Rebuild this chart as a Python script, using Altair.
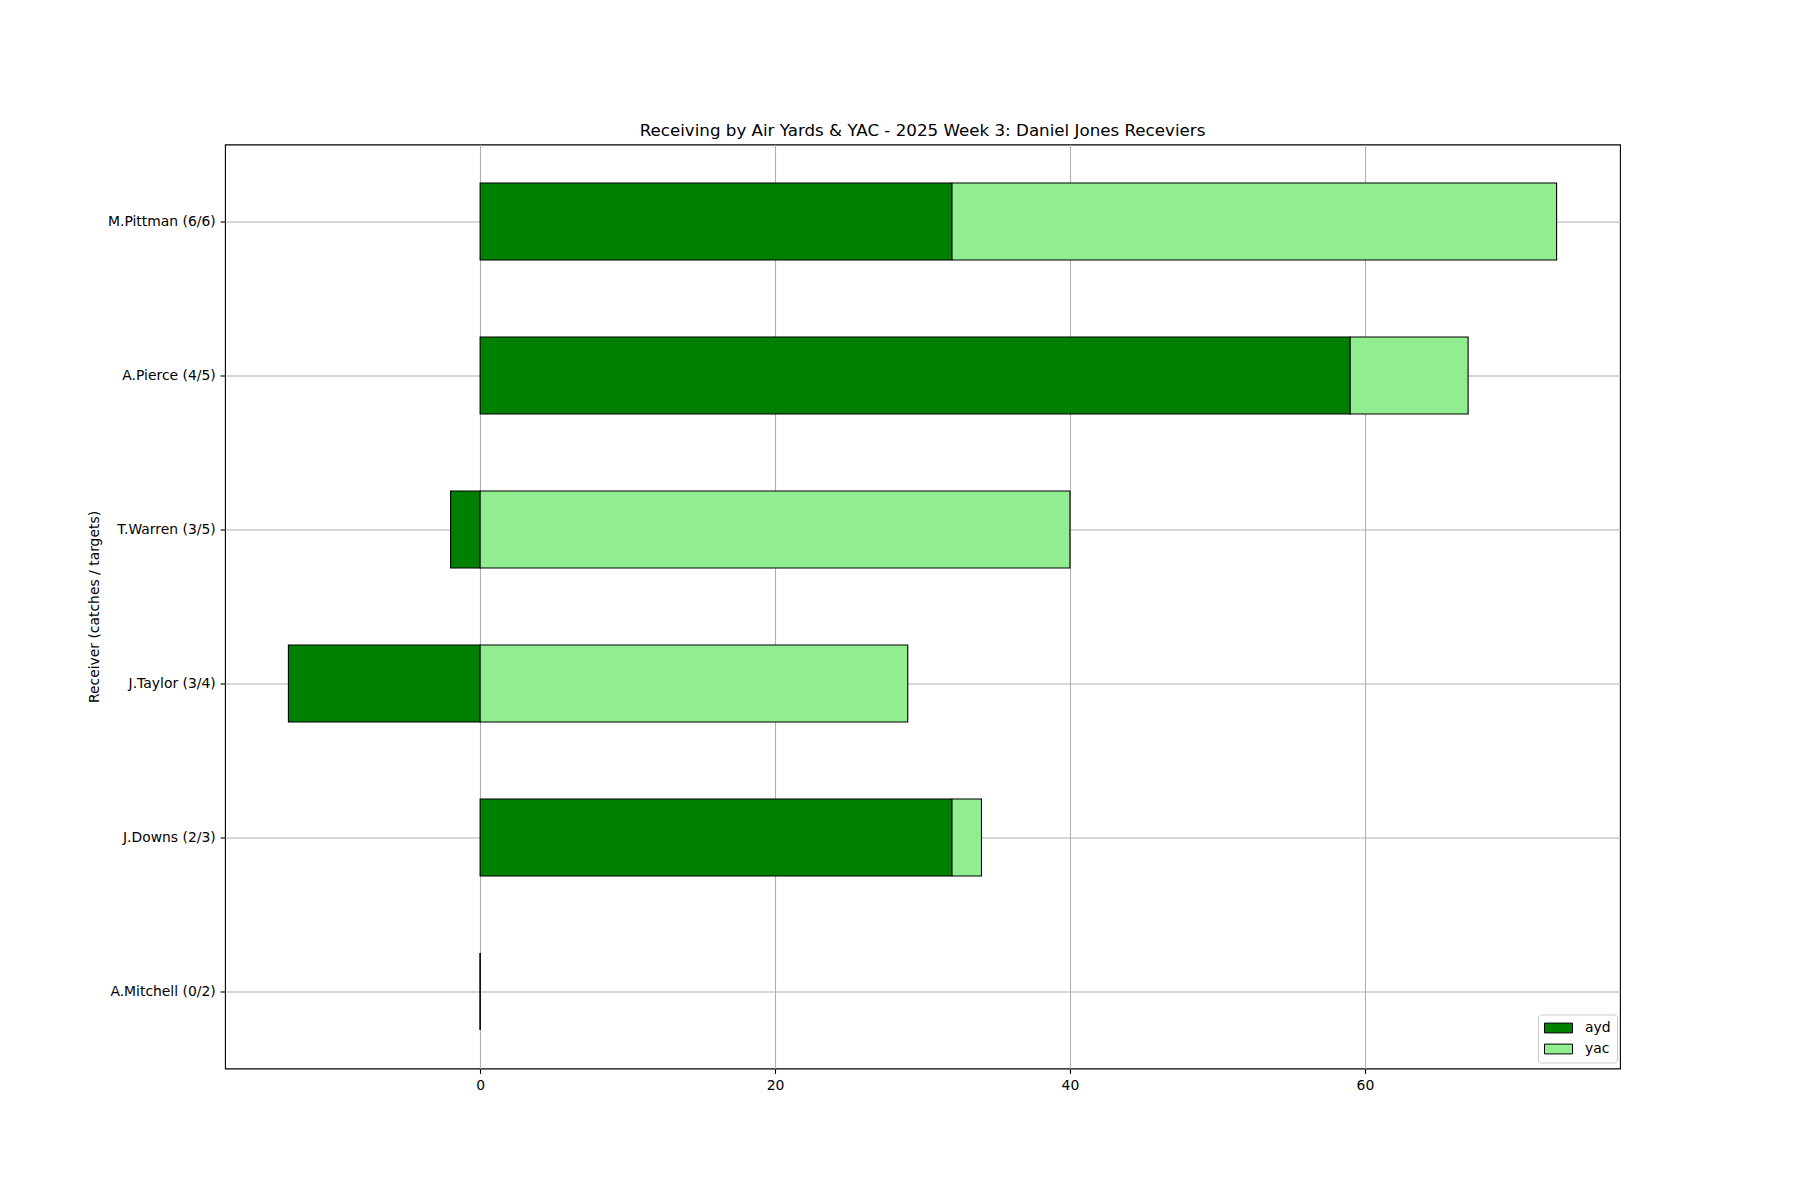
import altair as alt
import pandas as pd

receivers = ["M.Pittman (6/6)", "A.Pierce (4/5)", "T.Warren (3/5)",
             "J.Taylor (3/4)", "J.Downs (2/3)", "A.Mitchell (0/2)"]
ayd = [32, 59, -2, -13, 32, 0]
yac = [41, 8, 40, 29, 2, 0]
series = ["ayd", "yac"]
colors = ["#008000", "#90ee90"]
x_ticks = [0, 20, 40, 60]

rows = []
for r, a, y in zip(receivers, ayd, yac):
    rows.append({"receiver": r, "kind": "ayd", "yards": a})
    rows.append({"receiver": r, "kind": "yac", "yards": y})
df = pd.DataFrame(rows)

FONT = "DejaVu Sans"

chart = alt.Chart(df).mark_bar(stroke="black", strokeWidth=1.1).encode(
    x=alt.X("yards:Q", stack="zero",
            scale=alt.Scale(domain=[-17.3, 77.3], nice=False, zero=False),
            axis=alt.Axis(values=x_ticks, title=None, grid=True)),
    y=alt.Y("receiver:N", sort=receivers,
            scale=alt.Scale(paddingInner=0.5, paddingOuter=0.25),
            axis=alt.Axis(title="Receiver (catches / targets)", bandPosition=0.5,
                          grid=True, titlePadding=6)),
    color=alt.Color("kind:N",
                    scale=alt.Scale(domain=series, range=colors),
                    legend=alt.Legend(
                        title=None, orient="none", legendX=1313, legendY=870,
                        symbolType="M-1,-0.7 L3,-0.7 L3,0.7 L-1,0.7 Z",
                        symbolSize=196, symbolStrokeColor="black",
                        symbolStrokeWidth=1, labelOffset=26,
                        labelFontSize=13.9, labelFont=FONT, labelColor="black",
                        rowPadding=6, padding=6, strokeColor="#cccccc",
                        fillColor="white", cornerRadius=3)),
    order=alt.Order("kind:N", sort="ascending"),
).properties(
    width=1395, height=924,
    title=alt.TitleParams("Receiving by Air Yards & YAC - 2025 Week 3: Daniel Jones Receviers",
                          fontSize=16.7, font=FONT, fontWeight="normal",
                          color="black", offset=5, anchor="middle"),
    autosize=alt.AutoSizeParams(type="none"),
    padding={"left": 217, "top": 136.5, "right": 20, "bottom": 60},
).configure_view(
    stroke="black", strokeWidth=1.1
).configure_axis(
    domain=False, labelFont=FONT, labelFontSize=13.9, labelColor="black",
    titleFont=FONT, titleFontSize=13.9, titleFontWeight="normal", titleColor="black",
    tickColor="black", tickSize=4.9, tickWidth=1.1, labelPadding=4.9,
    gridColor="#b0b0b0", gridWidth=1.1
)

chart.save("out.html", embed_options={"renderer": "svg", "actions": False})
